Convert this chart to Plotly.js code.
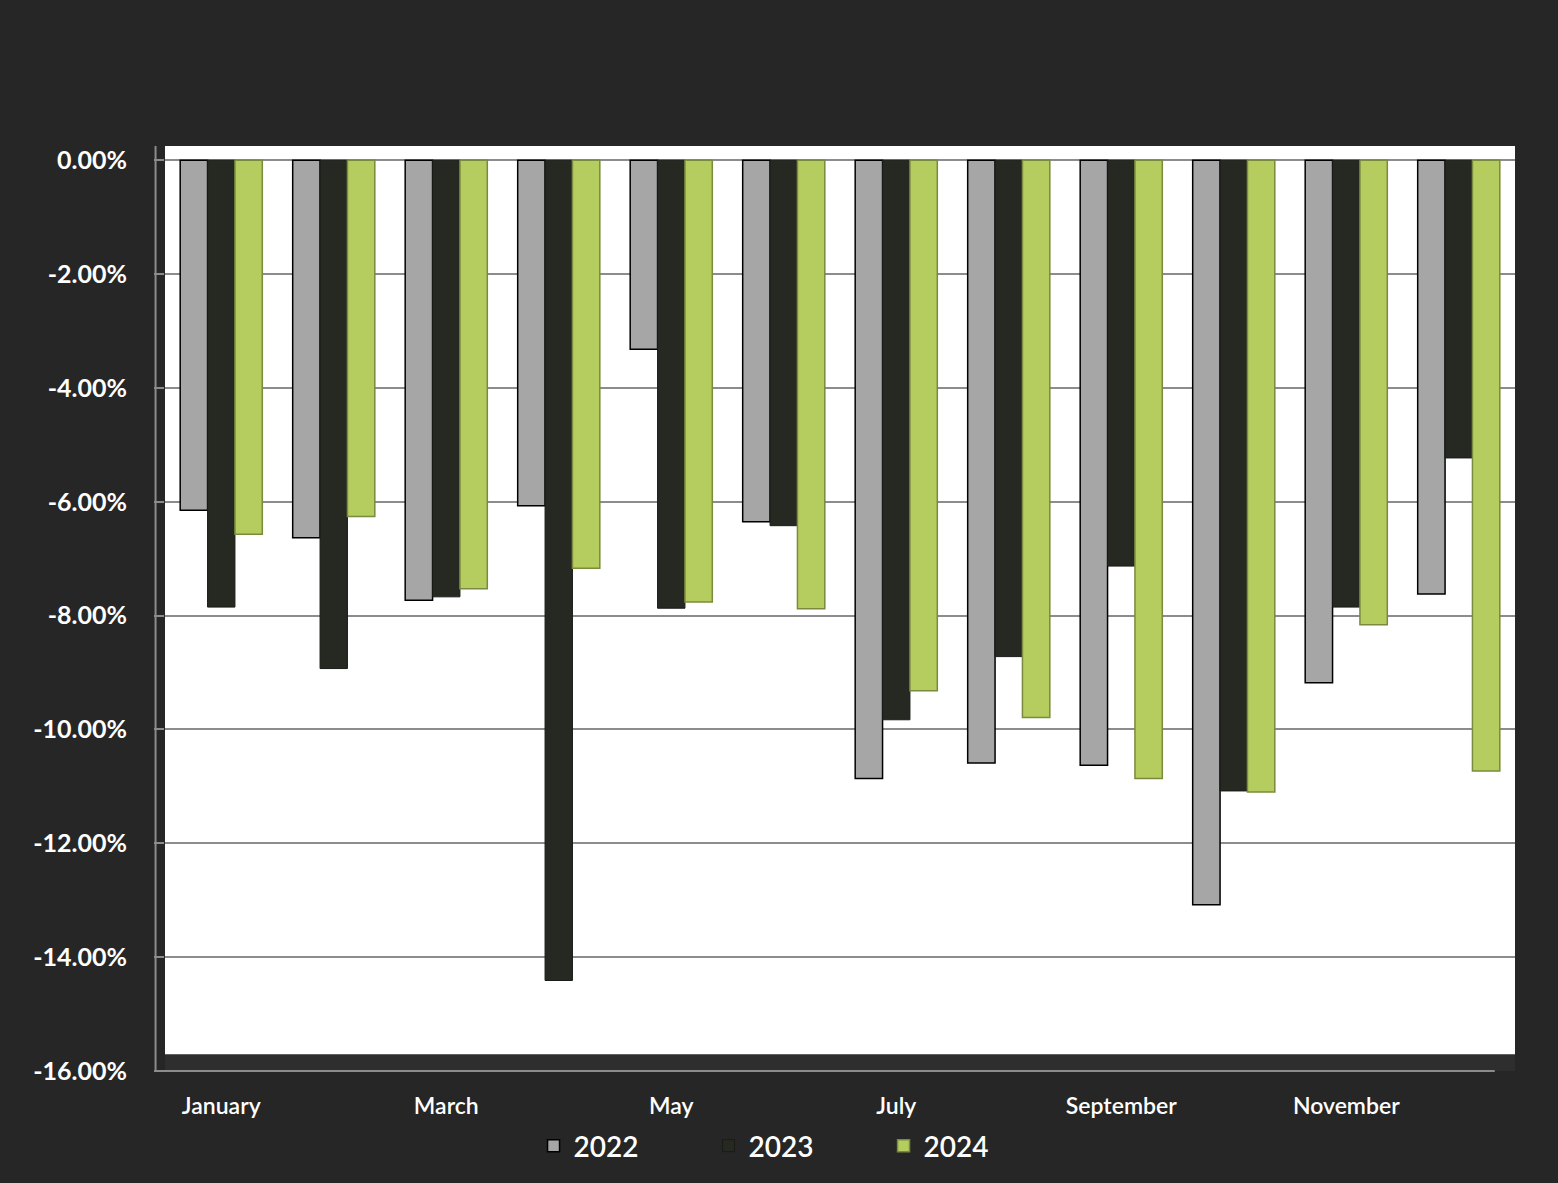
<!DOCTYPE html>
<html>
<head>
<meta charset="utf-8">
<script src="https://cdn.plot.ly/plotly-3.0.1.min.js"></script>
<style>
  html, body { margin: 0; padding: 0; background: #262626; }
  #chart { width: 1558px; height: 1183px; }
</style>
</head>
<body>
<div id="chart"></div>
<script>
const months = ["January","February","March","April","May","June","July","August","September","October","November","December"];
const tickMonths = ["January","March","May","July","September","November"];
const yTickVals = [0,-2,-4,-6,-8,-10,-12,-14,-16];
const yTickText = ["0.00%","-2.00%","-4.00%","-6.00%","-8.00%","-10.00%","-12.00%","-14.00%","-16.00%"];
const v2022 = [-6.15,-6.63,-7.73,-6.07,-3.32,-6.35,-10.86,-10.59,-10.63,-13.08,-9.18,-7.62];
const v2023 = [-7.85,-8.93,-7.67,-14.41,-7.87,-6.42,-9.83,-8.72,-7.13,-11.08,-7.85,-5.23];
const v2024 = [-6.57,-6.26,-7.53,-7.17,-7.76,-7.88,-9.32,-9.79,-10.86,-11.10,-8.16,-10.73];

const font = "Lato, 'Noto Sans', sans-serif";

const traces = [
  {type:"bar", name:"2022", x:months, y:v2022,
   marker:{color:"#A6A6A6", line:{color:"#000000", width:1.5}}},
  {type:"bar", name:"2023", x:months, y:v2023,
   marker:{color:"#262822", line:{color:"#1a1c17", width:1}}},
  {type:"bar", name:"2024", x:months, y:v2024,
   marker:{color:"#B5CC5E", line:{color:"#7A8A3E", width:1.5}}}
];

const layout = {
  width:1558, height:1183,
  paper_bgcolor:"#262626",
  plot_bgcolor:"#FFFFFF",
  margin:{l:165, r:43, t:146, b:107},
  barmode:"group",
  bargap:0.27,
  bargroupgap:0,
  showlegend:true,
  legend:{orientation:"h", x:0.273, xanchor:"left", y:-0.081, yanchor:"middle",
          font:{family:font, size:28, color:"#FFFFFF", weight:600}, bgcolor:"rgba(0,0,0,0)",
          itemwidth:30, entrywidth:130, entrywidthmode:"pixels", traceorder:"normal"},
  xaxis:{type:"category", categoryorder:"array", categoryarray:months,
         tickmode:"array", tickvals:tickMonths, ticktext:tickMonths,
         tickfont:{family:font, size:23, color:"#FFFFFF", weight:600},
         ticklabelstandoff:19, showgrid:false, zeroline:false, showline:false, ticks:""},
  yaxis:{range:[-16,0.25], tickmode:"array", tickvals:yTickVals, ticktext:yTickText,
         tickfont:{family:font, size:25, color:"#FFFFFF", weight:700},
         showgrid:true, gridcolor:"#8C8C8C", gridwidth:2,
         zeroline:true, zerolinecolor:"#8C8C8C", zerolinewidth:2,
         showline:false, ticks:"outside", ticklen:10, tickcolor:"#8C8C8C", tickwidth:2,
         ticklabelstandoff:22},
  shapes:[
    {type:"line", xref:"paper", yref:"paper", x0:-0.007, x1:-0.007, y0:0, y1:1.0,
     line:{color:"#8C8C8C", width:2}},
    {type:"rect", xref:"paper", yref:"paper", x0:0, x1:1, y0:0, y1:0.018,
     fillcolor:"#2e2e2e", line:{width:0}, layer:"above"},
    {type:"line", xref:"paper", yref:"paper", x0:-0.007, x1:0.985, y0:0, y1:0,
     line:{color:"#8C8C8C", width:2}, layer:"above"}
  ]
};

Plotly.newPlot("chart", traces, layout, {displayModeBar:false, staticPlot:true});
</script>
</body>
</html>
